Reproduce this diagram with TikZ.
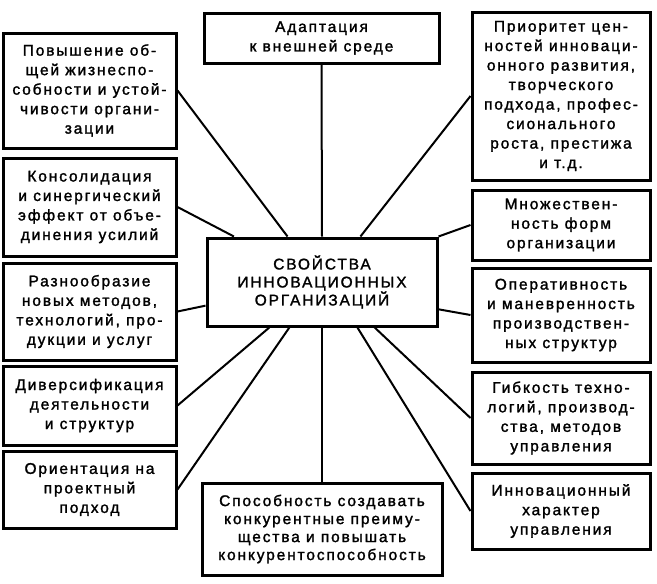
\documentclass[tikz,border=0pt]{standalone}
\usepackage{fontspec}
\setmainfont{Liberation Sans}[LetterSpace=12, FakeBold=1.6]
\usetikzlibrary{calc}
\begin{document}
\begin{tikzpicture}[x=1pt,y=-1pt,
  box/.style={draw, line width=3pt, inner sep=0pt, align=center,
    font=\fontsize{15.5}{19.5}\selectfont},
  link/.style={line width=2pt}]
\useasboundingbox (0,0) rectangle (657,584);
% center
\node[box, minimum width=230, minimum height=88, font=\fontsize{15.5}{18}\selectfont] (c) at (322,282) {СВОЙСТВА\\ИННОВАЦИОННЫХ\\ОРГАНИЗАЦИЙ};
% top and bottom
\node[box, minimum width=235, minimum height=50] (top) at (321.5,38) {Адаптация\\к внешней среде};
\node[box, minimum width=240, minimum height=92, font=\fontsize{15.5}{18}\selectfont] (bot) at (322,529) {Способность создавать\\конкурентные преиму-\\щества и повышать\\конкурентоспособность};
% left column
\node[box, minimum width=173, minimum height=115] (l1) at (89.5,90.5) {Повышение об-\\щей жизнеспо-\\собности и устой-\\чивости органи-\\зации};
\node[box, minimum width=173, minimum height=98] (l2) at (89.5,207) {Консолидация\\и синергический\\эффект от объе-\\динения усилий};
\node[box, minimum width=173, minimum height=97] (l3) at (89.5,311.5) {Разнообразие\\новых методов,\\технологий, про-\\дукции и услуг};
\node[box, minimum width=173, minimum height=79] (l4) at (89.5,405.5) {Диверсификация\\деятельности\\и структур};
\node[box, minimum width=173, minimum height=77] (l5) at (89.5,489.5) {Ориентация на\\проектный\\подход};
% right column
\node[box, minimum width=178, minimum height=168] (r1) at (561,96) {Приоритет цен-\\ностей инноваци-\\онного развития,\\творческого\\подхода, профес-\\сионального\\роста, престижа\\и т.д.};
\node[box, minimum width=178, minimum height=70] (r2) at (561,225) {Множествен-\\ность форм\\организации};
\node[box, minimum width=178, minimum height=94] (r3) at (561,315) {Оперативность\\и маневренность\\производствен-\\ных структур};
\node[box, minimum width=178, minimum height=92] (r4) at (561,418) {Гибкость техно-\\логий, производ-\\ства, методов\\управления};
\node[box, minimum width=178, minimum height=76] (r5) at (561,511) {Инновационный\\характер\\управления};
% connectors
\draw[link] (top.south) -- (c.north);
\draw[link] (c.south) -- (bot.north);
\draw[link] (l1.east) -- ($(c.north west)!0.352!(c.north east)$);
\draw[link] (l2.east) -- ($(c.north west)!0.122!(c.north east)$);
\draw[link] (l3.east) -- ($(c.north west)!0.76!(c.south west)$);
\draw[link] (l4.east) -- ($(c.south west)!0.274!(c.south east)$);
\draw[link] (l5.east) -- ($(c.south west)!0.36!(c.south east)$);
\draw[link] (r1.west) -- ($(c.north west)!0.665!(c.north east)$);
\draw[link] (r2.west) -- (c.north east);
\draw[link] (r3.west) -- ($(c.north east)!0.8!(c.south east)$);
\draw[link] (r4.west) -- ($(c.south west)!0.726!(c.south east)$);
\draw[link] (r5.west) -- ($(c.south west)!0.652!(c.south east)$);
\end{tikzpicture}
\end{document}
